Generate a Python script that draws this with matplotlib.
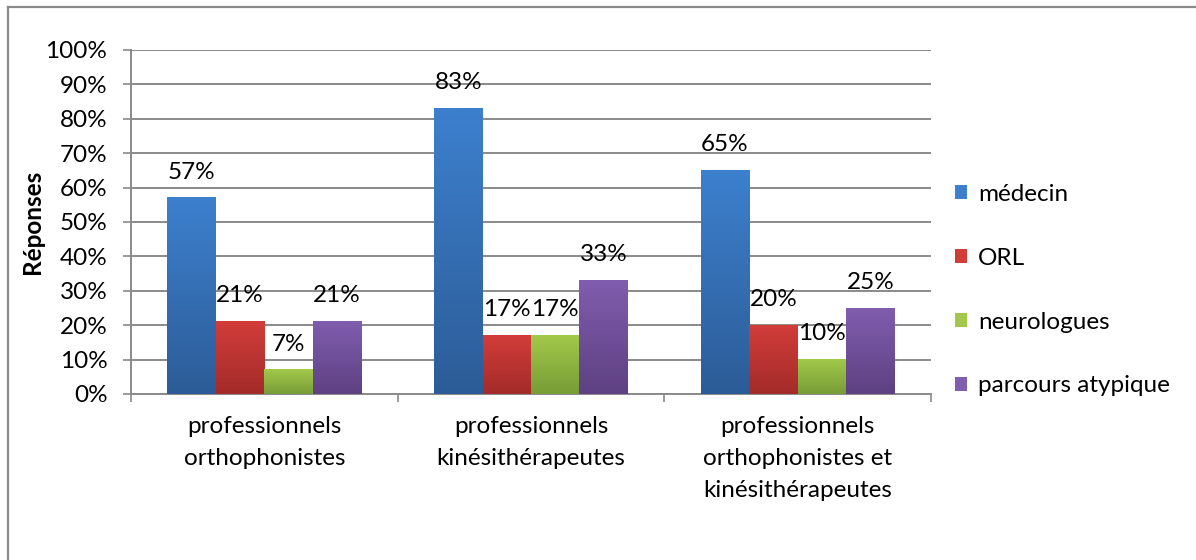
import numpy as np
import matplotlib
matplotlib.use("Agg")
import matplotlib.pyplot as plt
from matplotlib.colors import LinearSegmentedColormap
from matplotlib.patches import Patch
from matplotlib.lines import Line2D

plt.rcParams['font.family'] = ['Lato', 'DejaVu Sans']

categories = ["professionnels\northophonistes",
              "professionnels\nkinésithérapeutes",
              "professionnels\northophonistes et\nkinésithérapeutes"]
series = ["médecin", "ORL", "neurologues", "parcours atypique"]
medecin = [57, 83, 65]
orl = [21, 17, 20]
neuro = [7, 17, 10]
atypique = [21, 33, 25]
values = [medecin, orl, neuro, atypique]
yticks = [0, 10, 20, 30, 40, 50, 60, 70, 80, 90, 100]

# top / bottom colour of each series' gradient
shades = [("#3d80ce", "#2c5c97"),
          ("#d23d3a", "#a32b29"),
          ("#a2c94a", "#789c37"),
          ("#805dae", "#5e4182")]
grid_col = "#8a8a8a"
fs = 17.5

fig = plt.figure(figsize=(11.96, 5.6), dpi=100)
ax = fig.add_axes([131/1196, 1 - 394/560, 800/1196, 344/560])

w = 1 / 5.5
x = np.arange(len(categories))
grad = np.linspace(0, 1, 256).reshape(-1, 1)
for i, vals in enumerate(values):
    top, bot = shades[i]
    cmap = LinearSegmentedColormap.from_list(series[i], [bot, top])
    bars = ax.bar(x + (i - 1.5) * w, vals, w, color=top, alpha=0, zorder=3)
    for rect, v in zip(bars, vals):
        x0 = rect.get_x()
        ax.imshow(grad, extent=[x0, x0 + w, 0, v], origin='lower', cmap=cmap,
                  aspect='auto', zorder=3, interpolation='bilinear')
        ax.annotate(f"{v}%", (x0 + w / 2, v), xytext=(0, 11), textcoords='offset points',
                    ha='center', va='bottom', fontsize=fs, color='black')

ax.set_xlim(-0.5, len(categories) - 0.5)
ax.set_ylim(0, 100)
ax.set_yticks(yticks)
ax.set_yticklabels([f"{t}%" for t in yticks])
ax.yaxis.grid(True, color=grid_col, lw=1.4)
ax.set_axisbelow(True)

ax.set_xticks(x)
ax.set_xticklabels(categories, fontsize=fs, linespacing=1.65)
ax.set_xticks(np.arange(-0.5, len(categories)), minor=True)
ax.tick_params(axis='x', which='major', length=0, pad=16)
ax.tick_params(axis='x', which='minor', length=6, width=1.2, color=grid_col, direction='out')
ax.tick_params(axis='y', length=6, width=1.2, color=grid_col, direction='out', pad=11, labelsize=fs)

for s in ['top', 'right']:
    ax.spines[s].set_visible(False)
for s in ['left', 'bottom']:
    ax.spines[s].set_color(grid_col)
    ax.spines[s].set_linewidth(1.4)

fig.text(33/1196, 1 - 222/560, "Réponses", rotation=90, ha='center', va='center',
         fontsize=fs, fontweight='bold')

handles = [Patch(facecolor=shades[i][0], edgecolor='none') for i in range(len(series))]
fig.legend(handles, series, loc='upper left', bbox_to_anchor=(955/1196, 1 - 184/560),
           frameon=False, fontsize=fs, labelspacing=1.76, handlelength=0.5,
           handleheight=0.5, handletextpad=0.45, borderpad=0, borderaxespad=0)

# chart frame: only the top and left edges show
fig.add_artist(Line2D([8/1196, 1], [1 - 7/560] * 2, transform=fig.transFigure,
                      color=grid_col, lw=1.6))
fig.add_artist(Line2D([8/1196] * 2, [0, 1 - 7/560], transform=fig.transFigure,
                      color=grid_col, lw=1.6))

fig.savefig("out.png", dpi=100)
